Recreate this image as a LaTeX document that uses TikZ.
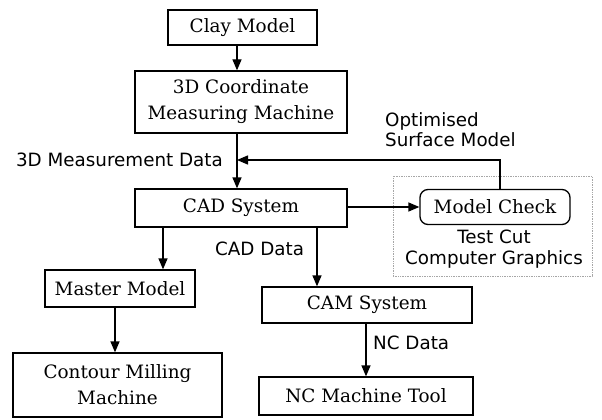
\documentclass[tikz,border=0pt]{standalone}
\usepackage{fontspec}
\setmainfont{DejaVu Serif}
\setsansfont{DejaVu Sans}
\usetikzlibrary{arrows.meta}
\begin{document}
\begin{tikzpicture}[x=1pt,y=-1pt,
  box/.style={draw, line width=1.3pt, inner sep=0pt, align=center,
    font=\fontsize{18.4}{26}\selectfont},
  lbl/.style={font=\sffamily\fontsize{18.3}{20.5}\selectfont, inner sep=0pt, align=left},
  arr/.style={line width=1.3pt, -{Triangle[length=11pt,width=9pt]}},
  grpbox/.style={draw=gray!70, densely dotted, line width=0.7pt, inner sep=0pt}
]
\useasboundingbox (0,0) rectangle (602,420);
% group frame
\node[grpbox, minimum width=199pt, minimum height=100pt] (grp) at (492.5,226) {};
% boxes
\node[box, minimum width=149pt, minimum height=35pt] (clay) at (242.5,27.5) {Clay Model};
\node[box, minimum width=212pt, minimum height=62pt] (cmm) at (241,102) {3D Coordinate\\Measuring Machine};
\node[box, minimum width=212pt, minimum height=38pt] (cad) at (241,208) {CAD System};
\node[box, rounded corners=8pt, minimum width=150pt, minimum height=35pt] (check) at (495,207) {Model Check};
\node[box, minimum width=150pt, minimum height=37pt] (master) at (120,288.5) {Master Model};
\node[box, minimum width=209pt, minimum height=64pt] (contour) at (117.5,385) {Contour Milling\\Machine};
\node[box, minimum width=210pt, minimum height=36pt] (cam) at (367,305) {CAM System};
\node[box, minimum width=214pt, minimum height=38pt] (nc) at (366,396) {NC Machine Tool};
% labels
\node[lbl, anchor=east] (lmeas) at (223,160) {3D Measurement Data};
\node[lbl, anchor=north west] (lopt) at (385,112) {Optimised\\Surface Model};
\node[lbl, anchor=west] (lcad) at (215,249) {CAD Data};
\node[lbl, anchor=west] (lnc) at (373,343) {NC Data};
\node[lbl, align=center] (ltest) at (494,249) {Test Cut\\Computer Graphics};
% connectors
\coordinate (join) at (237,160);
\draw[arr] (clay.south -| join) -- (cmm.north -| join);
\draw[arr] (cmm.south -| join) -- (cad.north -| join);
\draw[arr] ([xshift=5pt]check.north) |- (join);
\draw[arr] (cad.east |- check.west) -- (check.west);
\coordinate (xm) at (163,0);
\draw[arr] (cad.south -| xm) -- (master.north -| xm);
\coordinate (xc) at (115,0);
\draw[arr] (master.south -| xc) -- (contour.north -| xc);
\coordinate (xd) at (317,0);
\draw[arr] (cad.south -| xd) -- (cam.north -| xd);
\coordinate (xn) at (366,0);
\draw[arr] (cam.south -| xn) -- (nc.north -| xn);
\end{tikzpicture}
\end{document}
